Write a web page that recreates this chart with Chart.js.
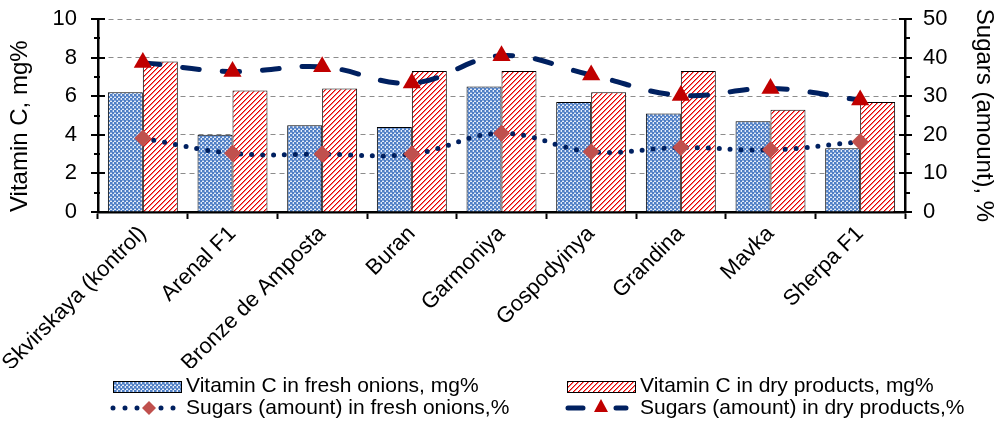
<!DOCTYPE html>
<html>
<head>
<meta charset="utf-8">
<script src="https://cdn.jsdelivr.net/npm/chart.js@4"></script>
<style>
  html, body { margin: 0; padding: 0; background: #fff; }
  #wrap { width: 1004px; height: 423px; }
</style>
</head>
<body>
<div id="wrap"><canvas id="chart" width="1004" height="423"></canvas></div>
<script>
const categories = ['Skvirskaya (kontrol)', 'Arenal F1', 'Bronze de Amposta', 'Buran', 'Garmoniya',
  'Gospodyinya', 'Grandina', 'Mavka', 'Sherpa F1'];
const vitaminFresh = [6.2, 4.0, 4.5, 4.4, 6.5, 5.7, 5.1, 4.7, 3.3];
const vitaminDry = [7.8, 6.3, 6.4, 7.3, 7.3, 6.2, 7.3, 5.3, 5.7];
const sugarsFresh = [19.1, 15.2, 15.0, 15.0, 20.4, 15.6, 16.7, 16.1, 18.2];
const sugarsDry = [38.7, 36.4, 37.6, 33.4, 40.5, 35.5, 30.2, 32.0, 29.0];
const vitaminTicks = [0, 2, 4, 6, 8, 10];
const sugarTicks = [0, 10, 20, 30, 40, 50];

const labels = {
  fresh: 'Vitamin C in fresh onions, mg%',
  dry: 'Vitamin C in dry products, mg%',
  sugarsFresh: 'Sugars (amount) in fresh onions,%',
  sugarsDry: 'Sugars (amount) in dry products,%'
};

const NAVY = '#002060';
const FONT = "'Liberation Sans', Arial, sans-serif";

const canvas = document.getElementById('chart');
const mainCtx = canvas.getContext('2d');

function makePattern(kind) {
  const tile = document.createElement('canvas');
  const t = tile.getContext('2d');
  if (kind === 'fresh') {
    tile.width = 4;
    tile.height = 4;
    t.fillStyle = '#e3ebf8';
    t.fillRect(0, 0, 4, 4);
    t.fillStyle = '#4f7fc4';
    t.fillRect(0, 0, 2, 2);
    t.fillRect(2, 2, 2, 2);
    t.fillStyle = '#86a6da';
    t.fillRect(2, 0, 2, 1);
    t.fillRect(0, 2, 1, 2);
  } else {
    tile.width = 5;
    tile.height = 5;
    t.fillStyle = '#ffffff';
    t.fillRect(0, 0, 5, 5);
    for (let x = 0; x < 5; x++) {
      for (let y = 0; y < 5; y++) {
        const k = (x + y) % 5;
        if (k === 4) { t.fillStyle = '#e60000'; t.fillRect(x, y, 1, 1); }
        if (k === 0) { t.fillStyle = '#f47c7c'; t.fillRect(x, y, 1, 1); }
      }
    }
  }
  return mainCtx.createPattern(tile, 'repeat');
}

const freshFill = makePattern('fresh');
const dryFill = makePattern('dry');

// minor and major tick marks crossing the value axes
const axisTicks = {
  id: 'axisTicks',
  afterDraw(chart) {
    const ctx = chart.ctx;
    const y = chart.scales.y;
    const y1 = chart.scales.y1;
    ctx.save();
    ctx.strokeStyle = '#000';
    ctx.lineWidth = 2;
    for (let v = vitaminTicks[0]; v <= vitaminTicks[vitaminTicks.length - 1]; v += 1) {
      const py = Math.round(y.getPixelForValue(v));
      const major = vitaminTicks.includes(v);
      ctx.beginPath();
      ctx.moveTo(y.right - (major ? 7 : 4), py);
      ctx.lineTo(y.right + (major ? 7 : 2), py);
      ctx.stroke();
    }
    for (let v = sugarTicks[0]; v <= sugarTicks[sugarTicks.length - 1]; v += 5) {
      const py = Math.round(y1.getPixelForValue(v));
      const major = sugarTicks.includes(v);
      ctx.beginPath();
      ctx.moveTo(y1.left - (major ? 6 : 1), py);
      ctx.lineTo(y1.left + (major ? 7 : 5), py);
      ctx.stroke();
    }
    ctx.restore();
  }
};

// two-column legend below the category labels
const bottomLegend = {
  id: 'bottomLegend',
  afterDraw(chart) {
    const ctx = chart.ctx;
    ctx.save();
    ctx.font = '21px ' + FONT;
    ctx.fillStyle = '#000';
    ctx.textBaseline = 'middle';
    const row1 = 386;
    const row2 = 408;

    // bar swatches
    [[113, freshFill, labels.fresh], [567, dryFill, labels.dry]].forEach(([x, fill, text]) => {
      ctx.fillStyle = fill;
      ctx.fillRect(x, row1 - 5, 68, 11);
      ctx.strokeStyle = '#000';
      ctx.lineWidth = 1;
      ctx.strokeRect(x + 0.5, row1 - 5 + 0.5, 68, 11);
      ctx.fillStyle = '#000';
      ctx.fillText(text, x + 73, row1);
    });

    // dotted line with diamond
    ctx.strokeStyle = NAVY;
    ctx.lineWidth = 5;
    ctx.lineCap = 'round';
    ctx.setLineDash([0, 12]);
    ctx.beginPath();
    ctx.moveTo(113, row2);
    ctx.lineTo(182, row2);
    ctx.stroke();
    ctx.setLineDash([]);
    ctx.fillStyle = '#c0504d';
    ctx.beginPath();
    ctx.moveTo(149, row2 - 7);
    ctx.lineTo(156, row2);
    ctx.lineTo(149, row2 + 7);
    ctx.lineTo(142, row2);
    ctx.closePath();
    ctx.fill();
    ctx.fillStyle = '#000';
    ctx.fillText(labels.sugarsFresh, 186, row2);

    // dashed line with triangle
    ctx.strokeStyle = NAVY;
    ctx.beginPath();
    ctx.moveTo(568, row2);
    ctx.lineTo(583, row2);
    ctx.moveTo(616, row2);
    ctx.lineTo(626, row2);
    ctx.stroke();
    ctx.fillStyle = '#c00000';
    ctx.beginPath();
    ctx.moveTo(601, row2 - 9);
    ctx.lineTo(608, row2 + 4);
    ctx.lineTo(594, row2 + 4);
    ctx.closePath();
    ctx.fill();
    ctx.fillStyle = '#000';
    ctx.fillText(labels.sugarsDry, 640, row2);
    ctx.restore();
  }
};

const tickFont = { family: FONT, size: 22 };
const titleFont = { family: FONT, size: 24 };

new Chart(canvas, {
  data: {
    labels: categories,
    datasets: [
      {
        type: 'line',
        label: labels.sugarsDry,
        data: sugarsDry,
        yAxisID: 'y1',
        order: 0,
        borderColor: NAVY,
        borderWidth: 5,
        borderDash: [17, 23],
        borderCapStyle: 'round',
        tension: 0.4,
        fill: false,
        pointStyle: 'triangle',
        pointRadius: 10.5,
        pointBackgroundColor: '#c00000',
        pointBorderWidth: 0
      },
      {
        type: 'line',
        label: labels.sugarsFresh,
        data: sugarsFresh,
        yAxisID: 'y1',
        order: 1,
        borderColor: NAVY,
        borderWidth: 5,
        borderDash: [0, 11],
        borderCapStyle: 'round',
        tension: 0.4,
        fill: false,
        pointStyle: 'rectRot',
        pointRadius: 8.5,
        pointBackgroundColor: '#c0504d',
        pointBorderWidth: 0
      },
      {
        type: 'bar',
        label: labels.fresh,
        data: vitaminFresh,
        yAxisID: 'y',
        order: 2,
        backgroundColor: freshFill,
        borderColor: '#000',
        borderWidth: 1,
        barPercentage: 1,
        categoryPercentage: 0.78
      },
      {
        type: 'bar',
        label: labels.dry,
        data: vitaminDry,
        yAxisID: 'y',
        order: 3,
        backgroundColor: dryFill,
        borderColor: '#000',
        borderWidth: 1,
        barPercentage: 1,
        categoryPercentage: 0.78
      }
    ]
  },
  options: {
    responsive: false,
    animation: false,
    layout: { padding: { top: 19, left: 0, right: 0, bottom: 55 } },
    plugins: {
      legend: { display: false },
      tooltip: { enabled: false }
    },
    scales: {
      x: {
        offset: true,
        grid: {
          offset: true,
          drawOnChartArea: false,
          drawTicks: true,
          tickLength: 7,
          tickWidth: 2,
          tickColor: '#000'
        },
        border: { color: '#000', width: 2.5 },
        ticks: {
          color: '#000',
          font: tickFont,
          maxRotation: 45,
          minRotation: 45,
          padding: 2,
          autoSkip: false
        },
        afterFit(scale) {
          scale.height = 156;
          scale.paddingLeft = 0;
          scale.paddingRight = 0;
        }
      },
      y: {
        position: 'left',
        min: vitaminTicks[0],
        max: vitaminTicks[vitaminTicks.length - 1],
        grid: {
          color: '#8c8c8c',
          lineWidth: 1,
          drawTicks: false
        },
        border: { color: '#000', width: 2.5, dash: [5, 4] },
        ticks: {
          stepSize: 2,
          color: '#000',
          font: tickFont,
          padding: 21
        },
        title: {
          display: true,
          text: 'Vitamin C, mg%',
          align: 'start',
          color: '#000',
          font: titleFont,
          padding: { top: 6, bottom: 0 }
        },
        afterFit(scale) {
          scale.width = 98;
          scale.paddingTop = 0;
          scale.paddingBottom = 0;
        }
      },
      y1: {
        position: 'right',
        min: sugarTicks[0],
        max: sugarTicks[sugarTicks.length - 1],
        grid: { display: false, drawTicks: false },
        border: { color: '#000', width: 2.5 },
        ticks: {
          stepSize: 10,
          color: '#000',
          font: tickFont,
          padding: 18
        },
        title: {
          display: true,
          text: 'Sugars (amount), %',
          color: '#000',
          font: titleFont,
          padding: { top: 6, bottom: 0 }
        },
        afterFit(scale) {
          scale.width = 99;
          scale.paddingTop = 0;
          scale.paddingBottom = 0;
        }
      }
    }
  },
  plugins: [axisTicks, bottomLegend]
});
</script>
</body>
</html>
